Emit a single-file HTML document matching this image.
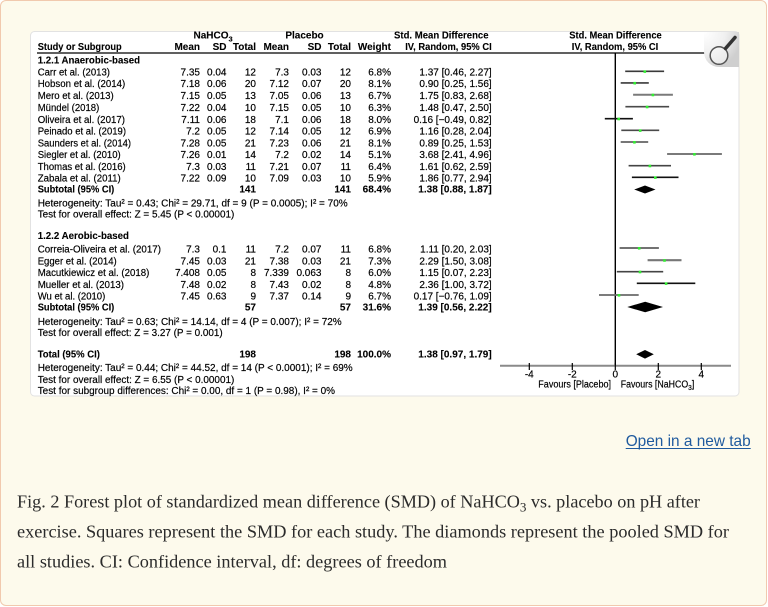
<!DOCTYPE html>
<html>
<head>
<meta charset="utf-8">
<style>
  html,body{margin:0;padding:0;background:#ffffff;}
  body{width:768px;height:607px;overflow:hidden;position:relative;}
  .card{position:absolute;left:0;top:0;width:765px;height:604px;border:1px solid #f1c9ae;border-radius:6px;background:#fdfaec;}
  svg{position:absolute;left:0;top:0;}
  .t{font-family:"Liberation Sans",Arial,sans-serif;font-size:10px;fill:#000;stroke:#000;stroke-width:0.18px;}
  .b{font-weight:bold;stroke-width:0.1px;}
</style>
</head>
<body>
<div class="card"></div>
<svg width="768" height="607" viewBox="0 0 768 607" xmlns="http://www.w3.org/2000/svg">
  <defs>
    <radialGradient id="mg" cx="0" cy="0" r="1.1">
      <stop offset="0" stop-color="#ffffff"/>
      <stop offset="0.55" stop-color="#f0f0f0"/>
      <stop offset="1" stop-color="#cfcfcf"/>
    </radialGradient>
  </defs>
  <!-- white panel -->
  <rect x="30.5" y="31.5" width="708.5" height="364.5" rx="4" ry="4" fill="#ffffff" stroke="#e2e2e2" stroke-width="1"/>

  <!-- header line -->
  <line x1="37" y1="53" x2="738.5" y2="53" stroke="#000" stroke-width="1.3"/>

  <!-- magnifier corner -->
  <path d="M704,32 H739 V67 H719 A15,15 0 0 1 704,52 Z" fill="url(#mg)"/>
  <circle cx="719" cy="55.5" r="8.8" fill="#f7f7f7" fill-opacity="0.6" stroke="#555" stroke-width="1.5"/>
  <line x1="725.5" y1="48.5" x2="735" y2="37.5" stroke="#333" stroke-width="3.5" stroke-linecap="round"/>

  <g class="t">
    <!-- header row 1 -->
    <text class="b" x="193.5" y="38.3">NaHCO<tspan font-size="7.5" dy="3">3</tspan></text>
    <text class="b" x="304.5" y="38.3" text-anchor="middle">Placebo</text>
    <text class="b" x="441.3" y="38.3" text-anchor="middle" textLength="94.5" lengthAdjust="spacingAndGlyphs">Std. Mean Difference</text>
    <text class="b" x="615.5" y="38.3" text-anchor="middle" textLength="92.5" lengthAdjust="spacingAndGlyphs">Std. Mean Difference</text>
    <!-- header row 2 -->
    <text class="b" x="37.7" y="49.8" textLength="84" lengthAdjust="spacingAndGlyphs">Study or Subgroup</text>
    <text class="b" x="200" y="49.8" text-anchor="end">Mean</text>
    <text class="b" x="226.5" y="49.8" text-anchor="end">SD</text>
    <text class="b" x="256" y="49.8" text-anchor="end">Total</text>
    <text class="b" x="289" y="49.8" text-anchor="end">Mean</text>
    <text class="b" x="321.5" y="49.8" text-anchor="end">SD</text>
    <text class="b" x="351" y="49.8" text-anchor="end">Total</text>
    <text class="b" x="391" y="49.8" text-anchor="end">Weight</text>
    <text class="b" x="491.7" y="49.8" text-anchor="end" textLength="86.5" lengthAdjust="spacingAndGlyphs">IV, Random, 95% CI</text>
    <text class="b" x="615" y="49.8" text-anchor="middle" textLength="86.5" lengthAdjust="spacingAndGlyphs">IV, Random, 95% CI</text>

    <!-- subgroup 1 -->
    <text class="b" x="37.7" y="63.5" textLength="102.3" lengthAdjust="spacingAndGlyphs">1.2.1 Anaerobic-based</text>

    <text x="37.7" y="75.5" textLength="72.3" lengthAdjust="spacingAndGlyphs">Carr et al. (2013)</text>
    <text x="200" y="75.5" text-anchor="end">7.35</text><text x="226.5" y="75.5" text-anchor="end">0.04</text><text x="256" y="75.5" text-anchor="end">12</text>
    <text x="289" y="75.5" text-anchor="end">7.3</text><text x="321.5" y="75.5" text-anchor="end">0.03</text><text x="351" y="75.5" text-anchor="end">12</text>
    <text x="391" y="75.5" text-anchor="end">6.8%</text><text x="491.7" y="75.5" text-anchor="end">1.37 [0.46, 2.27]</text>

    <text x="37.7" y="87.2" textLength="87.6" lengthAdjust="spacingAndGlyphs">Hobson et al. (2014)</text>
    <text x="200" y="87.2" text-anchor="end">7.18</text><text x="226.5" y="87.2" text-anchor="end">0.06</text><text x="256" y="87.2" text-anchor="end">20</text>
    <text x="289" y="87.2" text-anchor="end">7.12</text><text x="321.5" y="87.2" text-anchor="end">0.07</text><text x="351" y="87.2" text-anchor="end">20</text>
    <text x="391" y="87.2" text-anchor="end">8.1%</text><text x="491.7" y="87.2" text-anchor="end">0.90 [0.25, 1.56]</text>

    <text x="37.7" y="99" textLength="76" lengthAdjust="spacingAndGlyphs">Mero et al. (2013)</text>
    <text x="200" y="99" text-anchor="end">7.15</text><text x="226.5" y="99" text-anchor="end">0.05</text><text x="256" y="99" text-anchor="end">13</text>
    <text x="289" y="99" text-anchor="end">7.05</text><text x="321.5" y="99" text-anchor="end">0.06</text><text x="351" y="99" text-anchor="end">13</text>
    <text x="391" y="99" text-anchor="end">6.7%</text><text x="491.7" y="99" text-anchor="end">1.75 [0.83, 2.68]</text>

    <text x="37.7" y="111" textLength="61.6" lengthAdjust="spacingAndGlyphs">Mündel (2018)</text>
    <text x="200" y="111" text-anchor="end">7.22</text><text x="226.5" y="111" text-anchor="end">0.04</text><text x="256" y="111" text-anchor="end">10</text>
    <text x="289" y="111" text-anchor="end">7.15</text><text x="321.5" y="111" text-anchor="end">0.05</text><text x="351" y="111" text-anchor="end">10</text>
    <text x="391" y="111" text-anchor="end">6.3%</text><text x="491.7" y="111" text-anchor="end">1.48 [0.47, 2.50]</text>

    <text x="37.7" y="123" textLength="87.3" lengthAdjust="spacingAndGlyphs">Oliveira et al. (2017)</text>
    <text x="200" y="123" text-anchor="end">7.11</text><text x="226.5" y="123" text-anchor="end">0.06</text><text x="256" y="123" text-anchor="end">18</text>
    <text x="289" y="123" text-anchor="end">7.1</text><text x="321.5" y="123" text-anchor="end">0.06</text><text x="351" y="123" text-anchor="end">18</text>
    <text x="391" y="123" text-anchor="end">8.0%</text><text x="491.7" y="123" text-anchor="end">0.16 [−0.49, 0.82]</text>

    <text x="37.7" y="134.7" textLength="88.3" lengthAdjust="spacingAndGlyphs">Peinado et al. (2019)</text>
    <text x="200" y="134.7" text-anchor="end">7.2</text><text x="226.5" y="134.7" text-anchor="end">0.05</text><text x="256" y="134.7" text-anchor="end">12</text>
    <text x="289" y="134.7" text-anchor="end">7.14</text><text x="321.5" y="134.7" text-anchor="end">0.05</text><text x="351" y="134.7" text-anchor="end">12</text>
    <text x="391" y="134.7" text-anchor="end">6.9%</text><text x="491.7" y="134.7" text-anchor="end">1.16 [0.28, 2.04]</text>

    <text x="37.7" y="146.4" textLength="93.3" lengthAdjust="spacingAndGlyphs">Saunders et al. (2014)</text>
    <text x="200" y="146.4" text-anchor="end">7.28</text><text x="226.5" y="146.4" text-anchor="end">0.05</text><text x="256" y="146.4" text-anchor="end">21</text>
    <text x="289" y="146.4" text-anchor="end">7.23</text><text x="321.5" y="146.4" text-anchor="end">0.06</text><text x="351" y="146.4" text-anchor="end">21</text>
    <text x="391" y="146.4" text-anchor="end">8.1%</text><text x="491.7" y="146.4" text-anchor="end">0.89 [0.25, 1.53]</text>

    <text x="37.7" y="158.2" textLength="83" lengthAdjust="spacingAndGlyphs">Siegler et al. (2010)</text>
    <text x="200" y="158.2" text-anchor="end">7.26</text><text x="226.5" y="158.2" text-anchor="end">0.01</text><text x="256" y="158.2" text-anchor="end">14</text>
    <text x="289" y="158.2" text-anchor="end">7.2</text><text x="321.5" y="158.2" text-anchor="end">0.02</text><text x="351" y="158.2" text-anchor="end">14</text>
    <text x="391" y="158.2" text-anchor="end">5.1%</text><text x="491.7" y="158.2" text-anchor="end">3.68 [2.41, 4.96]</text>

    <text x="37.7" y="170" textLength="88" lengthAdjust="spacingAndGlyphs">Thomas et al. (2016)</text>
    <text x="200" y="170" text-anchor="end">7.3</text><text x="226.5" y="170" text-anchor="end">0.03</text><text x="256" y="170" text-anchor="end">11</text>
    <text x="289" y="170" text-anchor="end">7.21</text><text x="321.5" y="170" text-anchor="end">0.07</text><text x="351" y="170" text-anchor="end">11</text>
    <text x="391" y="170" text-anchor="end">6.4%</text><text x="491.7" y="170" text-anchor="end">1.61 [0.62, 2.59]</text>

    <text x="37.7" y="181.7" textLength="83" lengthAdjust="spacingAndGlyphs">Zabala et al. (2011)</text>
    <text x="200" y="181.7" text-anchor="end">7.22</text><text x="226.5" y="181.7" text-anchor="end">0.09</text><text x="256" y="181.7" text-anchor="end">10</text>
    <text x="289" y="181.7" text-anchor="end">7.09</text><text x="321.5" y="181.7" text-anchor="end">0.03</text><text x="351" y="181.7" text-anchor="end">10</text>
    <text x="391" y="181.7" text-anchor="end">5.9%</text><text x="491.7" y="181.7" text-anchor="end">1.86 [0.77, 2.94]</text>

    <text class="b" x="37.7" y="192.5" textLength="76.6" lengthAdjust="spacingAndGlyphs">Subtotal (95% CI)</text>
    <text class="b" x="256" y="192.5" text-anchor="end">141</text>
    <text class="b" x="351" y="192.5" text-anchor="end">141</text>
    <text class="b" x="391" y="192.5" text-anchor="end">68.4%</text>
    <text class="b" x="491.7" y="192.5" text-anchor="end">1.38 [0.88, 1.87]</text>

    <text x="37.7" y="206.5" textLength="310" lengthAdjust="spacingAndGlyphs">Heterogeneity: Tau² = 0.43; Chi² = 29.71, df = 9 (P = 0.0005); I² = 70%</text>
    <text x="37.7" y="217.7" textLength="196.6" lengthAdjust="spacingAndGlyphs">Test for overall effect: Z = 5.45 (P &lt; 0.00001)</text>

    <!-- subgroup 2 -->
    <text class="b" x="37.7" y="239" textLength="91.3" lengthAdjust="spacingAndGlyphs">1.2.2 Aerobic-based</text>

    <text x="37.7" y="252.5" textLength="123.3" lengthAdjust="spacingAndGlyphs">Correia-Oliveira et al. (2017)</text>
    <text x="200" y="252.5" text-anchor="end">7.3</text><text x="226.5" y="252.5" text-anchor="end">0.1</text><text x="256" y="252.5" text-anchor="end">11</text>
    <text x="289" y="252.5" text-anchor="end">7.2</text><text x="321.5" y="252.5" text-anchor="end">0.07</text><text x="351" y="252.5" text-anchor="end">11</text>
    <text x="391" y="252.5" text-anchor="end">6.8%</text><text x="491.7" y="252.5" text-anchor="end">1.11 [0.20, 2.03]</text>

    <text x="37.7" y="264.3" textLength="79" lengthAdjust="spacingAndGlyphs">Egger et al. (2014)</text>
    <text x="200" y="264.3" text-anchor="end">7.45</text><text x="226.5" y="264.3" text-anchor="end">0.03</text><text x="256" y="264.3" text-anchor="end">21</text>
    <text x="289" y="264.3" text-anchor="end">7.38</text><text x="321.5" y="264.3" text-anchor="end">0.03</text><text x="351" y="264.3" text-anchor="end">21</text>
    <text x="391" y="264.3" text-anchor="end">7.3%</text><text x="491.7" y="264.3" text-anchor="end">2.29 [1.50, 3.08]</text>

    <text x="37.7" y="276" textLength="111.6" lengthAdjust="spacingAndGlyphs">Macutkiewicz et al. (2018)</text>
    <text x="200" y="276" text-anchor="end">7.408</text><text x="226.5" y="276" text-anchor="end">0.05</text><text x="256" y="276" text-anchor="end">8</text>
    <text x="289" y="276" text-anchor="end">7.339</text><text x="321.5" y="276" text-anchor="end">0.063</text><text x="351" y="276" text-anchor="end">8</text>
    <text x="391" y="276" text-anchor="end">6.0%</text><text x="491.7" y="276" text-anchor="end">1.15 [0.07, 2.23]</text>

    <text x="37.7" y="287.8" textLength="86.3" lengthAdjust="spacingAndGlyphs">Mueller et al. (2013)</text>
    <text x="200" y="287.8" text-anchor="end">7.48</text><text x="226.5" y="287.8" text-anchor="end">0.02</text><text x="256" y="287.8" text-anchor="end">8</text>
    <text x="289" y="287.8" text-anchor="end">7.43</text><text x="321.5" y="287.8" text-anchor="end">0.02</text><text x="351" y="287.8" text-anchor="end">8</text>
    <text x="391" y="287.8" text-anchor="end">4.8%</text><text x="491.7" y="287.8" text-anchor="end">2.36 [1.00, 3.72]</text>

    <text x="37.7" y="299.5" textLength="67.6" lengthAdjust="spacingAndGlyphs">Wu et al. (2010)</text>
    <text x="200" y="299.5" text-anchor="end">7.45</text><text x="226.5" y="299.5" text-anchor="end">0.63</text><text x="256" y="299.5" text-anchor="end">9</text>
    <text x="289" y="299.5" text-anchor="end">7.37</text><text x="321.5" y="299.5" text-anchor="end">0.14</text><text x="351" y="299.5" text-anchor="end">9</text>
    <text x="391" y="299.5" text-anchor="end">6.7%</text><text x="491.7" y="299.5" text-anchor="end">0.17 [−0.76, 1.09]</text>

    <text class="b" x="37.7" y="310.7" textLength="76.6" lengthAdjust="spacingAndGlyphs">Subtotal (95% CI)</text>
    <text class="b" x="256" y="310.7" text-anchor="end">57</text>
    <text class="b" x="351" y="310.7" text-anchor="end">57</text>
    <text class="b" x="391" y="310.7" text-anchor="end">31.6%</text>
    <text class="b" x="491.7" y="310.7" text-anchor="end">1.39 [0.56, 2.22]</text>

    <text x="37.7" y="325" textLength="304" lengthAdjust="spacingAndGlyphs">Heterogeneity: Tau² = 0.63; Chi² = 14.14, df = 4 (P = 0.007); I² = 72%</text>
    <text x="37.7" y="336" textLength="185" lengthAdjust="spacingAndGlyphs">Test for overall effect: Z = 3.27 (P = 0.001)</text>

    <!-- total -->
    <text class="b" x="37.7" y="357.5" textLength="62.3" lengthAdjust="spacingAndGlyphs">Total (95% CI)</text>
    <text class="b" x="256" y="357.5" text-anchor="end">198</text>
    <text class="b" x="351" y="357.5" text-anchor="end">198</text>
    <text class="b" x="391" y="357.5" text-anchor="end">100.0%</text>
    <text class="b" x="491.7" y="357.5" text-anchor="end">1.38 [0.97, 1.79]</text>

    <text x="37.7" y="371" textLength="315" lengthAdjust="spacingAndGlyphs">Heterogeneity: Tau² = 0.44; Chi² = 44.52, df = 14 (P &lt; 0.0001); I² = 69%</text>
    <text x="37.7" y="383" textLength="196.6" lengthAdjust="spacingAndGlyphs">Test for overall effect: Z = 6.55 (P &lt; 0.00001)</text>
    <text x="37.7" y="394.2" textLength="297.3" lengthAdjust="spacingAndGlyphs">Test for subgroup differences: Chi² = 0.00, df = 1 (P = 0.98), I² = 0%</text>

    <!-- axis labels -->
    <text x="529.3" y="377.5" text-anchor="middle">-4</text>
    <text x="572.3" y="377.5" text-anchor="middle">-2</text>
    <text x="615.3" y="377.5" text-anchor="middle">0</text>
    <text x="658.3" y="377.5" text-anchor="middle">2</text>
    <text x="701.3" y="377.5" text-anchor="middle">4</text>
    <text x="611" y="387.5" text-anchor="end" textLength="72.7" lengthAdjust="spacingAndGlyphs">Favours [Placebo]</text>
    <text x="620.7" y="387.5" textLength="73.6" lengthAdjust="spacingAndGlyphs">Favours [NaHCO<tspan font-size="7.5" dy="2.5">3</tspan><tspan dy="-2.5">]</tspan></text>
  </g>

  <!-- zero line -->
  <line x1="615.3" y1="53" x2="615.3" y2="366" stroke="#000" stroke-width="1.4"/>

  <!-- CI lines -->
  <g stroke-width="1.6" fill="none">
    <line x1="625.2" y1="71.3" x2="664.1" y2="71.3" stroke="#3a3a3a"/>
    <line x1="620.7" y1="82.9" x2="648.8" y2="82.9" stroke="#3a3a3a"/>
    <line x1="633.1" y1="94.7" x2="672.9" y2="94.7" stroke="#7a7a7a" stroke-width="2"/>
    <line x1="625.4" y1="106.7" x2="669.1" y2="106.7" stroke="#4a4a4a"/>
    <line x1="604.8" y1="118.7" x2="632.9" y2="118.7" stroke="#111"/>
    <line x1="621.3" y1="130.3" x2="659.2" y2="130.3" stroke="#4a4a4a"/>
    <line x1="620.7" y1="142" x2="648.2" y2="142" stroke="#777" stroke-width="2"/>
    <line x1="667.1" y1="154" x2="721.9" y2="154" stroke="#7a7a7a" stroke-width="2"/>
    <line x1="628.6" y1="165.7" x2="671.0" y2="165.7" stroke="#444"/>
    <line x1="631.9" y1="177.3" x2="678.5" y2="177.3" stroke="#111"/>

    <line x1="619.6" y1="248" x2="658.9" y2="248" stroke="#444"/>
    <line x1="647.6" y1="260.2" x2="681.5" y2="260.2" stroke="#777" stroke-width="2.2"/>
    <line x1="616.8" y1="271.7" x2="663.2" y2="271.7" stroke="#444"/>
    <line x1="636.8" y1="283.3" x2="695.3" y2="283.3" stroke="#111"/>
    <line x1="599.0" y1="295" x2="638.7" y2="295" stroke="#6a6a6a" stroke-width="1.8"/>
  </g>

  <!-- green point markers -->
  <g fill="#33ee33">
    <rect x="643.5" y="70.3" width="2.6" height="2.6"/>
    <rect x="633.4" y="81.9" width="2.6" height="2.6"/>
    <rect x="651.6" y="93.7" width="2.6" height="2.6"/>
    <rect x="645.8" y="105.7" width="2.6" height="2.6"/>
    <rect x="617.4" y="117.7" width="2.6" height="2.6"/>
    <rect x="638.9" y="129.3" width="2.6" height="2.6"/>
    <rect x="633.1" y="141" width="2.6" height="2.6"/>
    <rect x="693.1" y="153" width="2.6" height="2.6"/>
    <rect x="648.6" y="164.7" width="2.6" height="2.6"/>
    <rect x="654.0" y="176.3" width="2.6" height="2.6"/>

    <rect x="637.9" y="247" width="2.6" height="2.6"/>
    <rect x="663.2" y="259.2" width="2.6" height="2.6"/>
    <rect x="638.7" y="270.7" width="2.6" height="2.6"/>
    <rect x="664.8" y="282.3" width="2.6" height="2.6"/>
    <rect x="617.7" y="294" width="2.6" height="2.6"/>
  </g>

  <!-- diamonds -->
  <polygon points="634.2,189.5 645.0,185.5 655.5,189.5 645.0,193.5" fill="#000"/>
  <polygon points="627.3,307 645.2,301.7 663.0,307 645.2,312.3" fill="#000"/>
  <polygon points="636.2,354.3 645.0,350 653.8,354.3 645.0,358.6" fill="#000"/>

  <!-- axis -->
  <line x1="500" y1="365.8" x2="731" y2="365.8" stroke="#8a8a8a" stroke-width="2"/>
  <g stroke="#000" stroke-width="1.2">
    <line x1="529.3" y1="363" x2="529.3" y2="370"/>
    <line x1="572.3" y1="363" x2="572.3" y2="370"/>
    <line x1="615.3" y1="363" x2="615.3" y2="370"/>
    <line x1="658.3" y1="363" x2="658.3" y2="370"/>
    <line x1="701.3" y1="363" x2="701.3" y2="370"/>
  </g>

  <!-- open in a new tab link -->
  <text x="625.7" y="446" font-family="'Liberation Sans',Arial,sans-serif" font-size="16" fill="#1f5a9e" textLength="125" lengthAdjust="spacingAndGlyphs">Open in a new tab</text>
  <line x1="625.7" y1="448.5" x2="750.7" y2="448.5" stroke="#1f5a9e" stroke-width="1"/>

  <!-- caption -->
  <g font-family="'Liberation Serif','Times New Roman',serif" font-size="18" fill="#2b2b2b">
    <text x="17" y="507.3" textLength="683" lengthAdjust="spacingAndGlyphs">Fig. 2 Forest plot of standardized mean difference (SMD) of NaHCO<tspan font-size="13" dy="4">3</tspan><tspan dy="-4"> vs. placebo on pH after</tspan></text>
    <text x="17" y="537.3" textLength="712" lengthAdjust="spacingAndGlyphs">exercise. Squares represent the SMD for each study. The diamonds represent the pooled SMD for</text>
    <text x="17" y="567.3" textLength="430" lengthAdjust="spacingAndGlyphs">all studies. CI: Confidence interval, df: degrees of freedom</text>
  </g>
</svg>
</body>
</html>
